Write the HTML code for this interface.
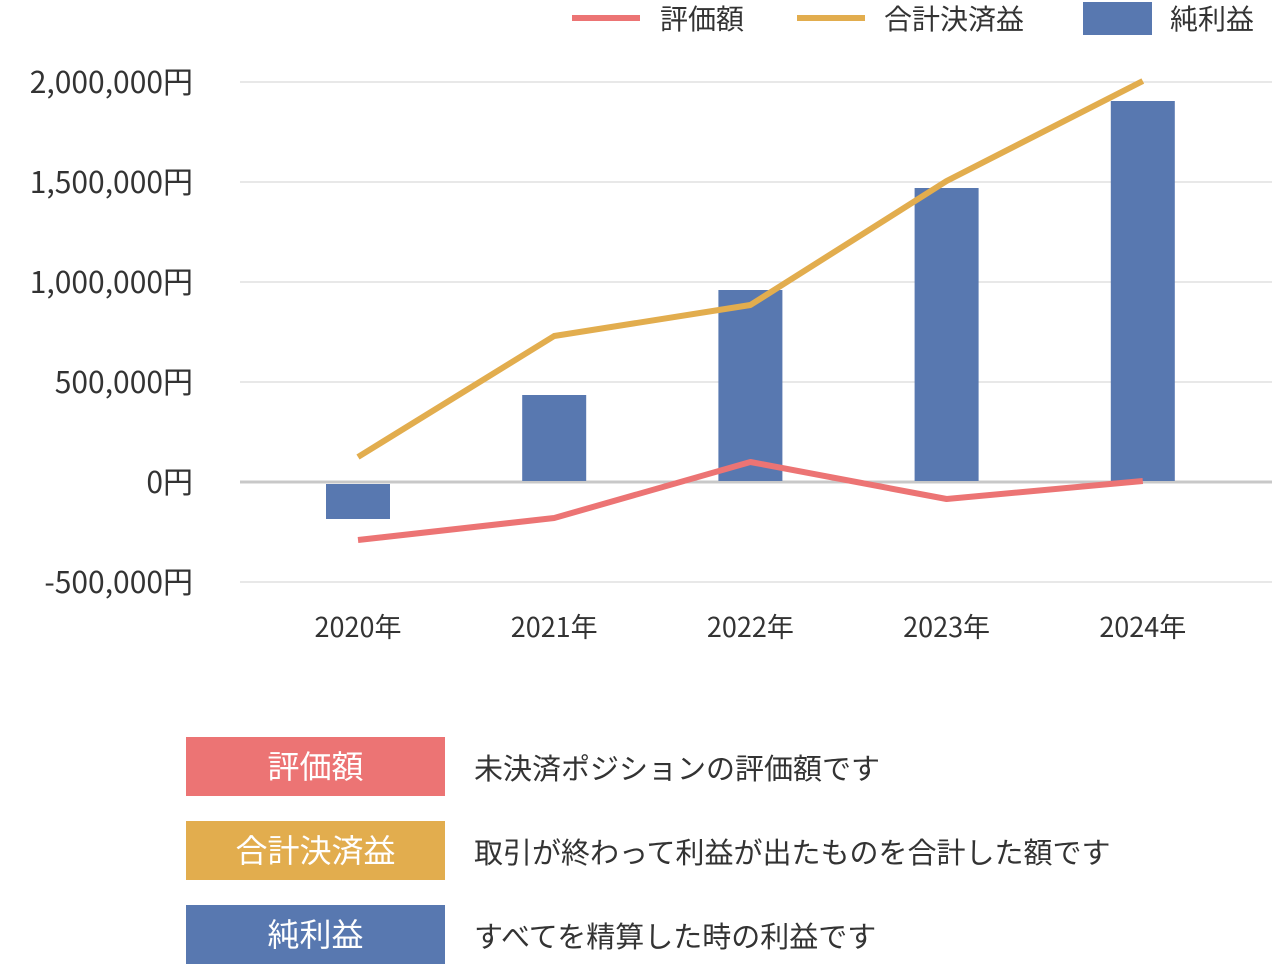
<!DOCTYPE html>
<html><head><meta charset="utf-8">
<style>
body{margin:0;width:1272px;height:965px;background:#fff;overflow:hidden;font-family:"Noto Sans CJK JP","Liberation Sans",sans-serif;}
svg text{font-family:"Noto Sans CJK JP","Liberation Sans",sans-serif;}
</style></head><body>
<svg id="chart" width="1272" height="965" xmlns="http://www.w3.org/2000/svg">
<g id="grid"></g>
<g id="bars"></g>
<g id="lines"></g>
<g id="axes"></g>
<g font-size="28" fill="#333">
<rect x="572" y="15" width="68" height="6" fill="#ec7474"/>
<text x="660" y="29">評価額</text>
<rect x="797" y="15" width="68" height="6" fill="#e2ad4e"/>
<text x="884" y="29">合計決済益</text>
<rect x="1083" y="2" width="69" height="33" fill="#5878b0"/>
<text x="1170" y="29">純利益</text>
</g>
<g>
<rect x="186" y="737" width="259" height="59" fill="#ec7474"/>
<text x="315.5" y="778" text-anchor="middle" font-size="32" fill="#fff">評価額</text>
<text x="474" y="779" font-size="29" fill="#333">未決済ポジションの評価額です</text>
<rect x="186" y="821" width="259" height="59" fill="#e2ad4e"/>
<text x="315.5" y="862" text-anchor="middle" font-size="32" fill="#fff">合計決済益</text>
<text x="474" y="863" font-size="29" fill="#333">取引が終わって利益が出たものを合計した額です</text>
<rect x="186" y="905" width="259" height="59" fill="#5878b0"/>
<text x="315.5" y="946" text-anchor="middle" font-size="32" fill="#fff">純利益</text>
<text x="474" y="947" font-size="29" fill="#333">すべてを精算した時の利益です</text>
</g>
</svg>
<script>
const categories=["2020年","2021年","2022年","2023年","2024年"];
const netProfit=[-180000,435000,960000,1470000,1905000];
const settledProfit=[125000,730000,885000,1505000,2005000];
const valuation=[-290000,-180000,100000,-85000,5000];
const yTicks=[-500000,0,500000,1000000,1500000,2000000];
const yTickLabels=["-500,000円","0円","500,000円","1,000,000円","1,500,000円","2,000,000円"];
const NS="http://www.w3.org/2000/svg";
const x=i=>358+i*196.2;
const y=v=>482-v*100/500000;
function mk(tag,attrs,parent,txt){const e=document.createElementNS(NS,tag);for(const k in attrs)e.setAttribute(k,attrs[k]);if(txt!==undefined)e.textContent=txt;document.getElementById(parent).appendChild(e);return e;}
yTicks.forEach((t,i)=>{
 const l=mk("line",{x1:240,x2:1272,y1:y(t),y2:y(t),stroke:t===0?"#c8c8c8":"#d9d9d9","stroke-width":t===0?3:1.3},"grid");
 
 
 const tx=mk("text",{x:193,y:y(t)+11,"text-anchor":"end","font-size":30,fill:"#333"},"axes",yTickLabels[i]);
 
 
});
categories.forEach((c,i)=>{
 const tx=mk("text",{x:x(i),y:637,"text-anchor":"middle","font-size":27,fill:"#333"},"axes",c);
 
 
 const v=netProfit[i];
 const b=mk("rect",{x:x(i)-32,y:Math.min(y(v),y(0)+2),width:64,height:Math.abs(y(v)-y(0))-1,fill:"#5878b0"},"bars");
 
 
});
function line(data,color,name){
 const p=mk("polyline",{points:data.map((v,i)=>x(i)+","+y(v)).join(" "),fill:"none",stroke:color,"stroke-width":6,"stroke-linejoin":"round"},"lines");
 
 
}
line(settledProfit,"#e2ad4e","settled-profit-line");
line(valuation,"#ec7474","valuation-line");
</script>
</body></html>
